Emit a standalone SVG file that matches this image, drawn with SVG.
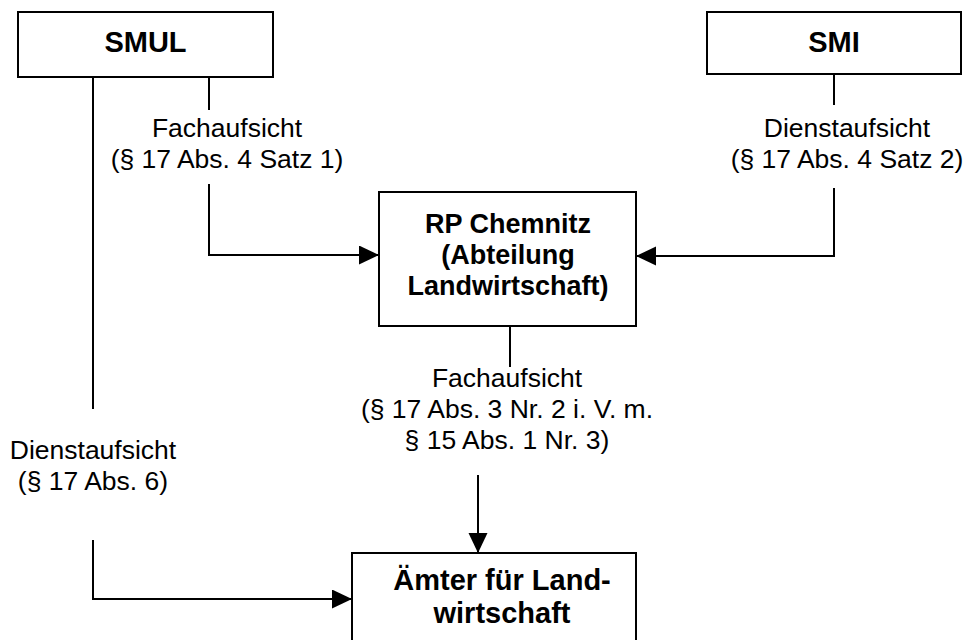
<svg xmlns="http://www.w3.org/2000/svg" width="969" height="640" viewBox="0 0 969 640">
<defs>
<marker id="arr" markerUnits="userSpaceOnUse" markerWidth="22" markerHeight="20" refX="20" refY="9.5" orient="auto">
<path d="M0,0 L20,9.5 L0,19 Z" fill="#000"/>
</marker>
<style>
.box{fill:#fff;stroke:#000;stroke-width:2}
.ln{fill:none;stroke:#000;stroke-width:2}
.t{font-family:"Liberation Sans",Arial,sans-serif;font-size:26.5px;fill:#000;text-anchor:middle}
.b{font-family:"Liberation Sans",Arial,sans-serif;font-size:27px;font-weight:bold;fill:#000;text-anchor:middle}
</style>
</defs>
<rect width="969" height="640" fill="#fff"/>
<g id="connectors">
<path class="ln" d="M209,77 V110"/>
<path class="ln" d="M209,184 V255 H379" marker-end="url(#arr)"/>
<path class="ln" d="M834,74 V105"/>
<path class="ln" d="M834,188 V256 H636" marker-end="url(#arr)"/>
<path class="ln" d="M510,326 V367"/>
<path class="ln" d="M478,475 V553" marker-end="url(#arr)"/>
<path class="ln" d="M93,77 V409"/>
<path class="ln" d="M93,540 V599 H352" marker-end="url(#arr)"/>
<text class="t" x="227" y="137">Fachaufsicht</text>
<text class="t" x="227" y="168">(§ 17 Abs. 4 Satz 1)</text>
<text class="t" x="847" y="137">Dienstaufsicht</text>
<text class="t" x="847" y="168">(§ 17 Abs. 4 Satz 2)</text>
<text class="t" x="507" y="387">Fachaufsicht</text>
<text class="t" x="507" y="418">(§ 17 Abs. 3 Nr. 2 i. V. m.</text>
<text class="t" x="507" y="449">§ 15 Abs. 1 Nr. 3)</text>
<text class="t" x="93" y="459">Dienstaufsicht</text>
<text class="t" x="93" y="490">(§ 17 Abs. 6)</text>
</g>
<g id="smul">
<rect class="box" x="18" y="12" width="255" height="65"/>
<text class="b" x="145.5" y="52" style="font-size:29px">SMUL</text>
</g>
<g id="smi">
<rect class="box" x="707" y="12" width="254" height="62"/>
<text class="b" x="834" y="52" style="font-size:29px">SMI</text>
</g>
<g id="rp">
<rect class="box" x="379" y="192" width="257" height="134"/>
<text class="b" x="508" y="233">RP Chemnitz</text>
<text class="b" x="508" y="264">(Abteilung</text>
<text class="b" x="508" y="295">Landwirtschaft)</text>
</g>
<g id="aemter">
<rect class="box" x="352" y="553" width="284" height="100"/>
<text class="b" x="502" y="590" style="font-size:29px">Ämter für Land-</text>
<text class="b" x="502" y="623" style="font-size:29px">wirtschaft</text>
</g>
</svg>
